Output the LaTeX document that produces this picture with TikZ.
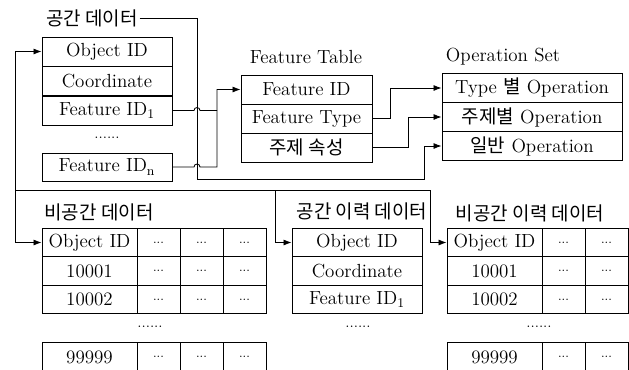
\documentclass[tikz,border=0pt]{standalone}
\usepackage{fontspec}
\newfontfamily\kr{Noto Sans CJK KR}
\usetikzlibrary{arrows.meta}

\tikzset{
  cell/.style={draw, inner sep=0pt, minimum height=.725cm, font=\fontsize{13.5}{15}\selectfont},
  rowbox/.style={cell, minimum width=3.25cm},
  keybox/.style={cell, minimum width=2.375cm, minimum height=.7125cm},
  dotbox/.style={cell, minimum width=1.075cm, minimum height=.7125cm, font=\fontsize{9}{10}\selectfont},
  title/.style={inner sep=1pt, font=\fontsize{13.5}{15}\selectfont},
  gap/.style={inner sep=0pt, font=\fontsize{11}{12}\selectfont}
}

\begin{document}
\begin{tikzpicture}[x=.025cm, y=-.025cm, line width=.6pt, >={Latex[length=2mm,width=1.5mm]}]
\useasboundingbox (0,0) rectangle (629,369);
\clip (0,0) rectangle (629,369);

\node[title] (sdtitle) at (92,18) {\kr 공간 데이터};
\node[rowbox] (sdobj) at (107,51.5) {Object ID};
\node[rowbox] (sdcoord) at (107,81) {Coordinate};
\node[rowbox] (sdfid1) at (107,110.5) {Feature ID$_{\mathrm{1}}$};
\node[gap] (sddots) at (107,138) {......};
\node[rowbox, minimum height=.7cm] (sdfidn) at (107,167) {Feature ID$_{\mathrm{n}}$};

\node[title] (fttitle) at (306,57) {Feature Table};
\node[rowbox, minimum width=3.275cm] (ftid) at (306.5,89.5) {Feature ID};
\node[rowbox, minimum width=3.275cm] (fttype) at (306.5,118.5) {Feature Type};
\node[rowbox, minimum width=3.275cm] (ftattr) at (306.5,147.5) {\kr 주제 속성};

\node[title] (optitle) at (503,57) {Operation Set};
\node[rowbox, minimum width=4.5cm] (optype) at (532,88) {Type {\kr 별} Operation};
\node[rowbox, minimum width=4.5cm] (opsub) at (532,117) {{\kr 주제별} Operation};
\node[rowbox, minimum width=4.5cm] (opgen) at (532,146) {{\kr 일반} Operation};

\node[title] (nstitle) at (99,212) {\kr 비공간 데이터};
\node[title] (hstitle) at (362,211) {\kr 공간 이력 데이터};
\node[title] (nhtitle) at (530,213) {\kr 비공간 이력 데이터};

\node[keybox] (nsobj) at (89.5,242.5) {Object ID};
\node[keybox] (ns2) at (89.5,271) {10001};
\node[keybox] (ns3) at (89.5,299.5) {10002};
\node[keybox] (ns4) at (89.5,357) {99999};
\node[gap] (nsdots) at (150,327) {......};

\node[rowbox, minimum height=.7125cm] (hsobj) at (357,242.5) {Object ID};
\node[rowbox, minimum height=.7125cm] (hscoord) at (357,271) {Coordinate};
\node[rowbox, minimum height=.7125cm] (hsfid1) at (357,299.5) {Feature ID$_{\mathrm{1}}$};
\node[gap] (hsdots) at (358,327) {......};

\node[keybox] (nhobj) at (494.5,242.5) {Object ID};
\node[keybox] (nh2) at (494.5,271) {10001};
\node[keybox] (nh3) at (494.5,299.5) {10002};
\node[keybox] (nh4) at (494.5,357) {99999};
\node[gap] (nhdots) at (539,327) {......};

\foreach \r/\y in {1/242.5,2/271,3/299.5,4/357} {
  \foreach \c/\x in {1/158.5,2/201.5,3/244.5}
    \node[dotbox] (ns\r\c) at (\x,\y) {...};
  \foreach \c/\x in {1/563.5,2/606.5}
    \node[dotbox] (nh\r\c) at (\x,\y) {...};
}

\draw[->] (sdfid1.east) -- (194,110.5) arc[start angle=180, end angle=0, radius=.075cm] -- (217,110.5) |- (ftid.west);
\draw (sdfidn.east) -- (194,167) arc[start angle=180, end angle=0, radius=.075cm] -- (217,167) -- (217,110.5);
\draw[->] (fttype.east) -- (390,118.5) |- (optype.west);
\draw[->] (ftattr.east) -- (408,147.5) |- (opsub.west);
\draw[->] (sdtitle.east) -- (197,18) |- (424,179) |- (opgen.west);

\coordinate (split) at (15,190);
\coordinate (fork) at (275,190);
\draw[->] (split) |- (sdobj.west);
\draw[->] (split) |- (nsobj.west);
\draw[->] (split) -- (fork) |- (hsobj.west);
\draw[->] (fork) -- (430,190) |- (nhobj.west);

\end{tikzpicture}
\end{document}
